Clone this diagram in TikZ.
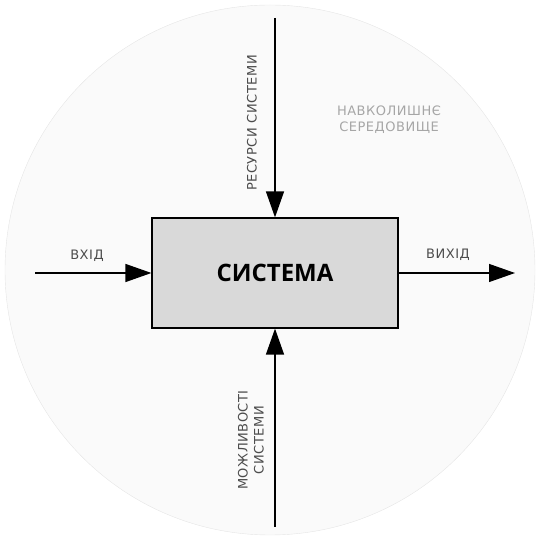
\documentclass[tikz,border=0pt]{standalone}
\usepackage{fontspec}
\setmainfont{Open Sans}
\newfontfamily\lblfont{DejaVu Sans}[LetterSpace=4]
\usetikzlibrary{arrows.meta}

\tikzset{
    sysbox/.style = {draw, line width=1.2pt, fill=black!15, minimum width=246pt, minimum height=110pt, font=\fontsize{24}{26}\selectfont\bfseries},
    flow/.style = {line width=1.3pt, -{Triangle[length=26pt, width=18pt]}},
    lbl/.style = {text=black!70, font=\lblfont\fontsize{13}{16}\selectfont},
}

\begin{document}
\begin{tikzpicture}[x=1pt, y=1pt]
    \useasboundingbox (0,0) rectangle (539,540);
    % environment
    \draw [draw=black!10, fill=black!2] (270,270) circle (265);
    \node [lbl, text=black!35, align=center, font=\lblfont\fontsize{13}{16}\selectfont] (env) at (389,420) {НАВКОЛИШНЄ\\СЕРЕДОВИЩЕ};

    \node [sysbox] (sys) at (275,267) {СИСТЕМА};

    \coordinate (res) at (275,522);
    \coordinate (can) at (275,13);
    \coordinate (in) at (35,267);
    \coordinate (out) at (515,267);

    \draw [flow] (res) -- (sys.north);
    \draw [flow] (can) -- (sys.south);
    \draw [flow] (in) -- (sys.west);
    \draw [flow] (sys.east) -- (out);

    \node [lbl] (inlbl) at (87,284) {ВХІД};
    \node [lbl] (outlbl) at (448,285) {ВИХІД};
    \node [lbl, rotate=90] (reslbl) at (252,417) {РЕСУРСИ СИСТЕМИ};
    \node [lbl, rotate=90, align=center] (canlbl) at (251,100) {МОЖЛИВОСТІ\\СИСТЕМИ};
\end{tikzpicture}
\end{document}
